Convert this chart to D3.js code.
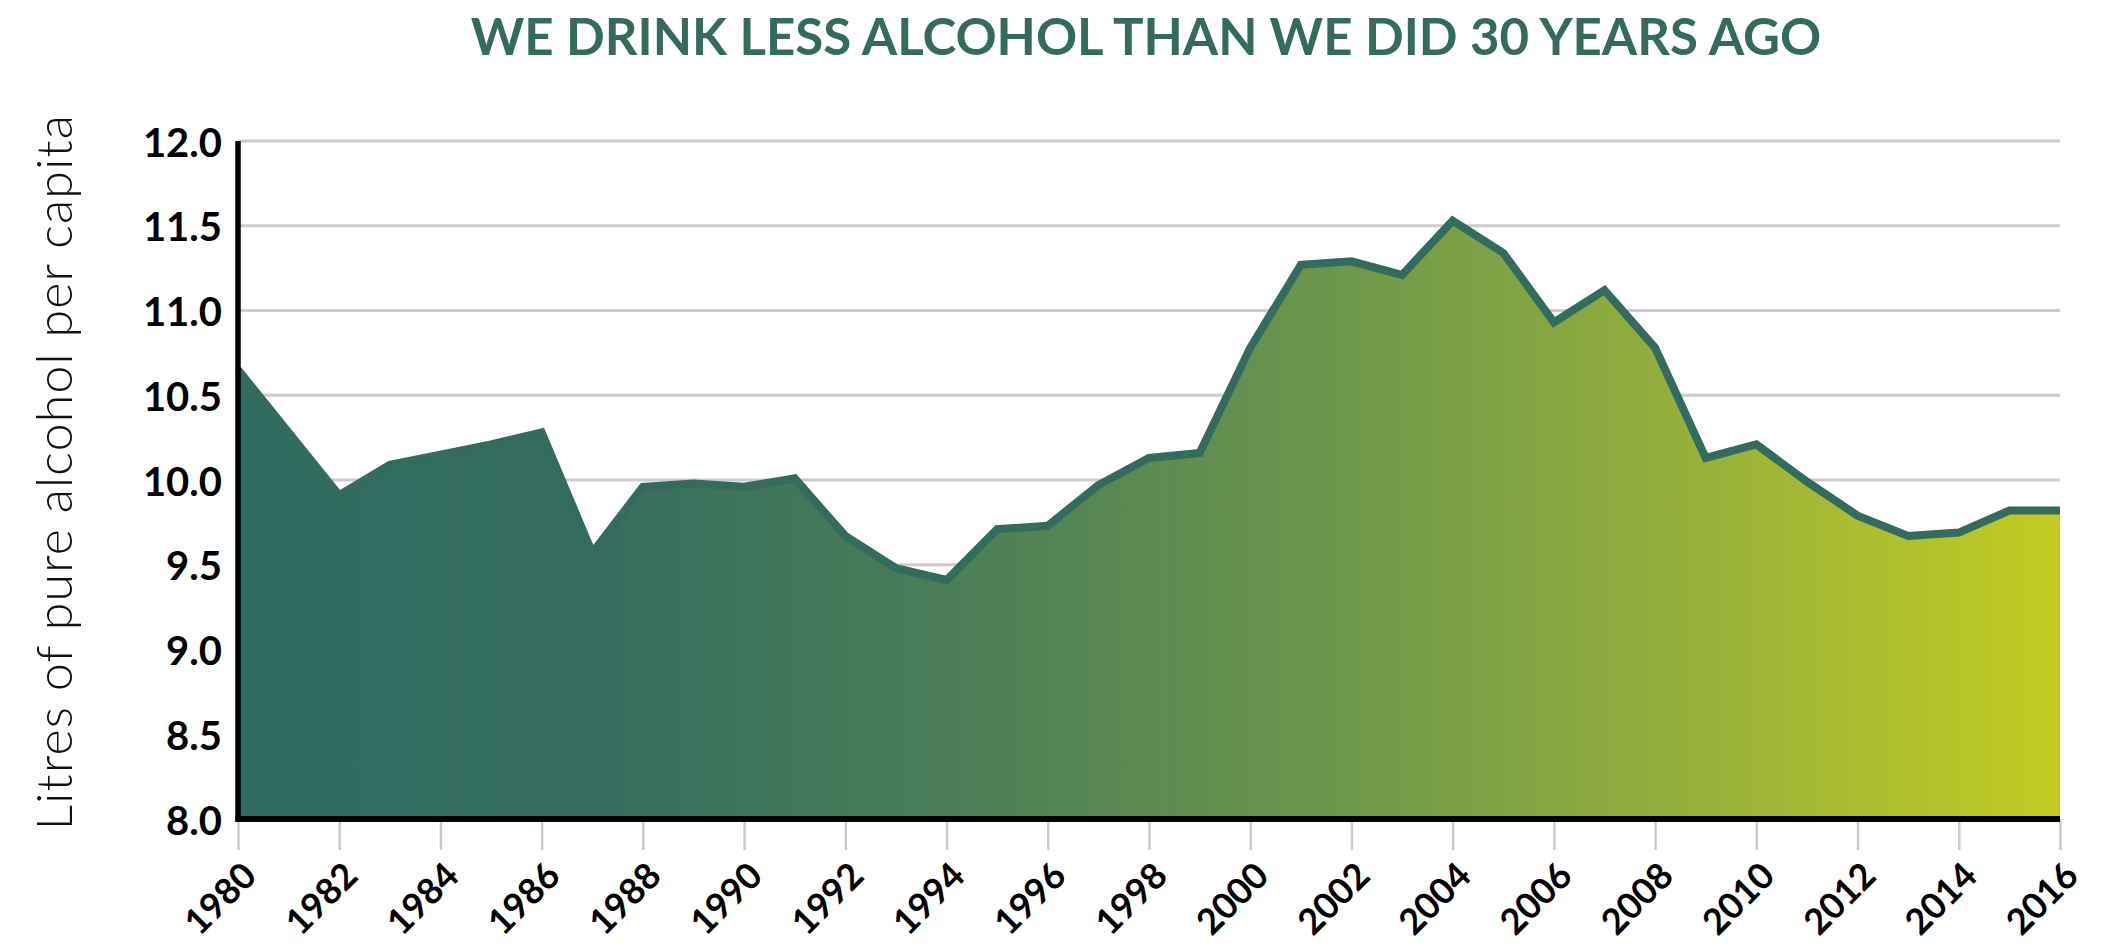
<!DOCTYPE html>
<html>
<head>
<meta charset="utf-8">
<script src="https://cdn.jsdelivr.net/npm/d3@7/dist/d3.min.js"></script>
<style>
  html, body { margin: 0; padding: 0; background: #ffffff; }
  svg { display: block; }
</style>
</head>
<body>
<div id="chart"></div>
<script>
// Per-capita consumption of pure alcohol, litres
const years = [1980, 1981, 1982, 1983, 1984, 1985, 1986, 1987, 1988, 1989,
               1990, 1991, 1992, 1993, 1994, 1995, 1996, 1997, 1998, 1999,
               2000, 2001, 2002, 2003, 2004, 2005, 2006, 2007, 2008, 2009,
               2010, 2011, 2012, 2013, 2014, 2015, 2016];
const litres = [10.65, 10.28, 9.91, 10.09, 10.15, 10.21, 10.28, 9.57, 9.96, 9.98,
                9.96, 10.01, 9.67, 9.48, 9.41, 9.71, 9.73, 9.97, 10.13, 10.16,
                10.78, 11.27, 11.29, 11.21, 11.53, 11.34, 10.93, 11.12, 10.78, 10.13,
                10.21, 9.99, 9.79, 9.67, 9.69, 9.82, 9.82];
const yTickValues = [8.0, 8.5, 9.0, 9.5, 10.0, 10.5, 11.0, 11.5, 12.0];
const xTickValues = [1980, 1982, 1984, 1986, 1988, 1990, 1992, 1994, 1996, 1998,
                     2000, 2002, 2004, 2006, 2008, 2010, 2012, 2014, 2016];

const titleText = "WE DRINK LESS ALCOHOL THAN WE DID 30 YEARS AGO";
const yTitleText = "Litres of pure alcohol per capita";

const W = 2104, H = 948;
const margin = { left: 238, right: 44, top: 141, bottom: 129 };

const svg = d3.select("#chart").append("svg")
  .attr("width", W).attr("height", H)
  .attr("viewBox", `0 0 ${W} ${H}`);

svg.append("rect").attr("width", W).attr("height", H).attr("fill", "#ffffff");

const x = d3.scaleLinear()
  .domain([years[0], years[years.length - 1]])
  .range([margin.left, W - margin.right]);
const y = d3.scaleLinear()
  .domain([8, 12])
  .range([H - margin.bottom, margin.top]);

const data = years.map((yr, i) => ({ year: yr, value: litres[i] }));

// Horizontal fill gradient, dark teal to yellow-green
const defs = svg.append("defs");
const grad = defs.append("linearGradient")
  .attr("id", "areaFill")
  .attr("gradientUnits", "userSpaceOnUse")
  .attr("x1", x.range()[0]).attr("x2", x.range()[1])
  .attr("y1", 0).attr("y2", 0);
[
  [0.00, "#316b61"],
  [0.20, "#356e5f"],
  [0.40, "#4c7e57"],
  [0.60, "#6c974b"],
  [0.80, "#97b03b"],
  [1.00, "#c3cc22"]
].forEach(([o, c]) => grad.append("stop").attr("offset", o).attr("stop-color", c));

// Title
svg.append("text")
  .attr("x", 1146).attr("y", 55)
  .attr("text-anchor", "middle")
  .attr("font-family", "Lato, 'Open Sans', sans-serif")
  .attr("font-weight", 700)
  .attr("font-size", 51)
  .attr("fill", "#346b5e")
  .text(titleText);

// Gridlines
svg.append("g")
  .selectAll("line")
  .data(yTickValues.slice(1))
  .join("line")
  .attr("x1", x.range()[0]).attr("x2", x.range()[1])
  .attr("y1", d => y(d)).attr("y2", d => y(d))
  .attr("stroke", "#cccccc")
  .attr("stroke-width", 3);

// Area and outline
const area = d3.area()
  .x(d => x(d.year))
  .y0(y(8))
  .y1(d => y(d.value));
const line = d3.line()
  .x(d => x(d.year))
  .y(d => y(d.value));

svg.append("path")
  .datum(data)
  .attr("d", area)
  .attr("fill", "url(#areaFill)");

svg.append("path")
  .datum(data)
  .attr("d", line)
  .attr("fill", "none")
  .attr("stroke", "#336b5f")
  .attr("stroke-width", 8)
  .attr("stroke-linejoin", "miter");

// X axis: grey ticks below the baseline, rotated year labels
const xAxis = d3.axisBottom(x)
  .tickValues(xTickValues)
  .tickFormat(d3.format("d"))
  .tickSize(31)
  .tickPadding(0);
const gx = svg.append("g")
  .attr("transform", `translate(0,${y(8)})`)
  .call(xAxis);
gx.select(".domain").remove();
gx.selectAll(".tick line")
  .attr("stroke", "#cccccc")
  .attr("stroke-width", 2.5);
gx.selectAll(".tick text")
  .attr("fill", "#000000")
  .attr("font-family", "Lato, 'Open Sans', sans-serif")
  .attr("font-weight", 700)
  .attr("font-size", 36)
  .attr("text-anchor", "end")
  .attr("dy", null)
  .attr("y", null)
  .attr("transform", "translate(20,59) rotate(-45)");

// Y axis labels
const yAxis = d3.axisLeft(y)
  .tickValues(yTickValues)
  .tickFormat(d3.format(".1f"))
  .tickSize(0)
  .tickPadding(16);
const gy = svg.append("g")
  .attr("transform", `translate(${x.range()[0]},0)`)
  .call(yAxis);
gy.select(".domain").remove();
gy.selectAll(".tick text")
  .attr("fill", "#000000")
  .attr("font-family", "Lato, 'Open Sans', sans-serif")
  .attr("font-weight", 700)
  .attr("font-size", 40)
  .attr("dy", "0.38em");

// Heavy black axis lines
svg.append("line")
  .attr("x1", x.range()[0]).attr("x2", x.range()[0])
  .attr("y1", y(12)).attr("y2", y(8) + 3)
  .attr("stroke", "#000000").attr("stroke-width", 5.5);
svg.append("line")
  .attr("x1", x.range()[0] - 2.5).attr("x2", x.range()[1])
  .attr("y1", y(8)).attr("y2", y(8))
  .attr("stroke", "#000000").attr("stroke-width", 6);

// Y axis title
svg.append("text")
  .attr("transform", `translate(72,472) rotate(-90)`)
  .attr("text-anchor", "middle")
  .attr("font-family", "Lato, 'Open Sans', sans-serif")
  .attr("font-weight", 300)
  .attr("font-size", 50)
  .attr("letter-spacing", 1.2)
  .attr("fill", "#111111")
  .text(yTitleText);
</script>
</body>
</html>
